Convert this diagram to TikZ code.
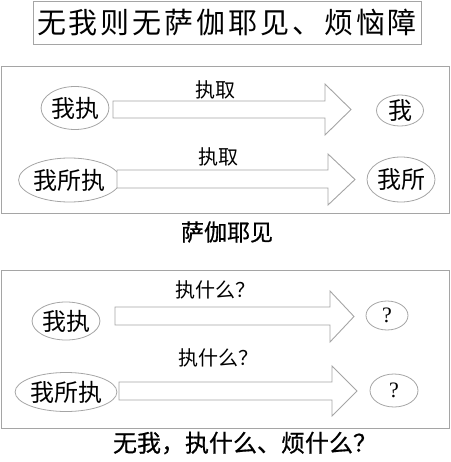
\documentclass[tikz,border=0pt]{standalone}
\usepackage{fontspec}
\setmainfont{Liberation Serif}
\newfontfamily\cjk{Noto Sans CJK SC}
\newfontfamily\cjkwide[LetterSpace=10]{Noto Sans CJK SC}
\newfontfamily\cjkcap[FakeBold=0.6]{Noto Sans CJK SC}
\usetikzlibrary{shapes.geometric}
\definecolor{linegray}{RGB}{165,165,165}
\tikzset{
  panel/.style={draw=linegray, line width=0.9pt, inner sep=0pt},
  oval/.style={ellipse, draw=linegray, line width=0.8pt, inner sep=0pt, font=\cjk\fontsize{24}{26}\selectfont},
  qoval/.style={ellipse, draw=linegray, line width=0.8pt, inner sep=0pt, font=\fontsize{22}{24}\selectfont},
  blockarrow/.style={draw=linegray, line width=0.9pt, fill=white, line join=miter},
  lbl/.style={inner sep=0pt, font=\cjk\fontsize{20}{22}\selectfont},
  caption/.style={inner sep=0pt, font=\cjkcap\fontsize{23}{25}\selectfont}
}
\begin{document}
\begin{tikzpicture}[x=1pt,y=-1pt]
\useasboundingbox (0,0) rectangle (450,462);
% title
\node[panel, minimum width=388, minimum height=43, font=\cjkwide\fontsize{29}{31}\selectfont] (title) at (227,22.5) {无我则无萨伽耶见、烦恼障};
% panel 1
\node[panel, minimum width=448, minimum height=147] (box1) at (225,139.5) {};
\node[oval, minimum width=62, minimum height=43] (a1) at (75,108) {我执};
\node[oval, minimum width=47, minimum height=25] (b1) at (400,110.5) {我};
\node[oval, minimum width=91, minimum height=44] (a2) at (69.5,180) {我所执};
\node[oval, minimum width=68, minimum height=45] (b2) at (401,179.5) {我所};
\draw[blockarrow] (113,101) -- (325,101) -- (325,84) -- (351,109.5) -- (325,135) -- (325,118) -- (113,118) -- cycle;
\draw[blockarrow] (117,170) -- (328,170) -- (328,154) -- (355,179.5) -- (328,205) -- (328,188) -- (117,188) -- cycle;
\node[lbl] (l1) at (215,90) {执取};
\node[lbl] (l2) at (218,157) {执取};
\node[caption] (c1) at (227,232) {萨伽耶见};
% panel 2
\node[panel, minimum width=448, minimum height=158] (box2) at (225,349) {};
\node[oval, minimum width=66, minimum height=38] (p1) at (66,321) {我执};
\node[qoval, minimum width=42, minimum height=29] (q1) at (387,315.5) {?};
\node[oval, minimum width=88, minimum height=39] (p2) at (66,392) {我所执};
\node[qoval, minimum width=48, minimum height=33] (q2) at (394,390.5) {?};
\draw[blockarrow] (115,307) -- (330,307) -- (330,291) -- (354,316.5) -- (330,342) -- (330,325) -- (115,325) -- cycle;
\draw[blockarrow] (119,382) -- (332,382) -- (332,366) -- (357,391) -- (332,416) -- (332,400) -- (119,400) -- cycle;
\node[lbl] (m1) at (215,290) {执什么？};
\node[lbl] (m2) at (218,358) {执什么？};
\node[caption, font=\cjkcap\fontsize{24}{26}\selectfont] (c2) at (245,443) {无我，执什么、烦什么？};
\end{tikzpicture}
\end{document}
